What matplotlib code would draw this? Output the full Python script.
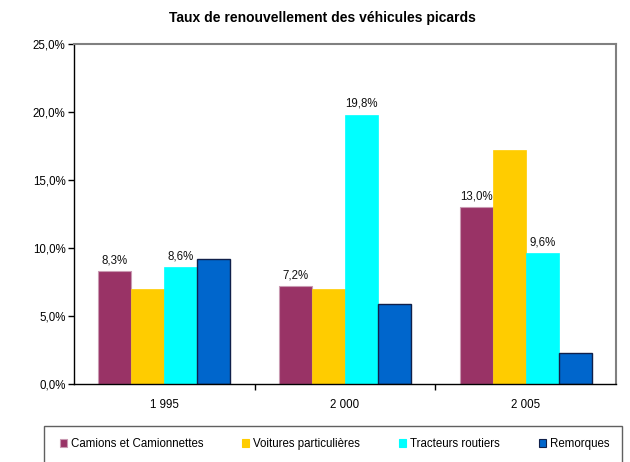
import matplotlib
matplotlib.use("Agg")
import matplotlib.pyplot as plt
from matplotlib.patches import Rectangle
import numpy as np

plt.rcParams['font.family'] = ['Liberation Sans', 'DejaVu Sans']

# ---- data ----
title = "Taux de renouvellement des véhicules picards"
categories = ["1 995", "2 000", "2 005"]
series_names = ["Camions et Camionnettes", "Voitures particulières",
                "Tracteurs routiers", "Remorques"]
camions = [8.3, 7.2, 13.0]
voitures = [7.0, 7.0, 17.2]
tracteurs = [8.6, 19.8, 9.6]
remorques = [9.2, 5.9, 2.3]
labeled_series = [True, False, True, False]
yticks = [0, 5, 10, 15, 20, 25]

colors = ["#993366", "#FFCC00", "#00FFFF", "#0066CC"]
edges = ["#C99AB2", "#FFCC00", "#00FFFF", "#10204A"]
edge_lw = [0.8, 0.5, 0.5, 1.0]

values = [camions, voitures, tracteurs, remorques]
fs = 8.3

fig = plt.figure(figsize=(6.3, 4.62), dpi=100)
ax = fig.add_axes([74/630, 1-384/462, 542/630, 340/462])

x = np.arange(len(categories))
w = 0.183
for i, (name, vals) in enumerate(zip(series_names, values)):
    pos = x + (i - 1.5) * w
    ax.bar(pos, vals, width=w, color=colors[i], edgecolor=edges[i],
           linewidth=edge_lw[i], label=name, zorder=2)
    if labeled_series[i]:
        for p, v in zip(pos, vals):
            ax.annotate(f"{v:.1f}%".replace('.', ','), (p, v),
                        xytext=(0, 3.5), textcoords="offset points",
                        ha="center", va="bottom", fontsize=fs, color="#111111")

ax.set_xlim(-0.5, 2.5)
ax.set_ylim(0, 25)
ax.set_yticks(yticks)
ax.set_yticklabels([f"{t:.1f}%".replace('.', ',') for t in yticks], fontsize=fs)
ax.set_xticks(x)
ax.set_xticklabels(categories, fontsize=fs)
ax.tick_params(axis='x', length=0, pad=11)
ax.set_xticks([0.5, 1.5], minor=True)
ax.tick_params(axis='x', which='minor', length=4, direction='out', width=1)
ax.tick_params(axis='y', length=4, direction='out', width=1, pad=2)

for s in ["top", "right"]:
    ax.spines[s].set_color("#808080")
    ax.spines[s].set_linewidth(1.5)
for s in ["left", "bottom"]:
    ax.spines[s].set_color("black")
    ax.spines[s].set_linewidth(1)

fig.text(322/630, 1-18/462, title, ha="center", va="center",
         fontsize=10, fontweight="bold")

# legend box
fig.patches.append(Rectangle((44/630, -0.05), (622-44)/630, (0.05 + 1-426/462),
                             transform=fig.transFigure, fill=False,
                             edgecolor="#606060", linewidth=1))
handles = [Rectangle((0, 0), 1, 1, facecolor=colors[i], edgecolor=edges[i],
                     linewidth=0.8) for i in range(4)]
fig.legend(handles, series_names, loc="center left",
           bbox_to_anchor=(60/630, 1-444/462), ncol=4, frameon=False,
           fontsize=fs, handlelength=0.62, handleheight=0.62,
           handletextpad=0.35, columnspacing=3.35, borderpad=0, borderaxespad=0)

fig.savefig("out.png", dpi=100)
